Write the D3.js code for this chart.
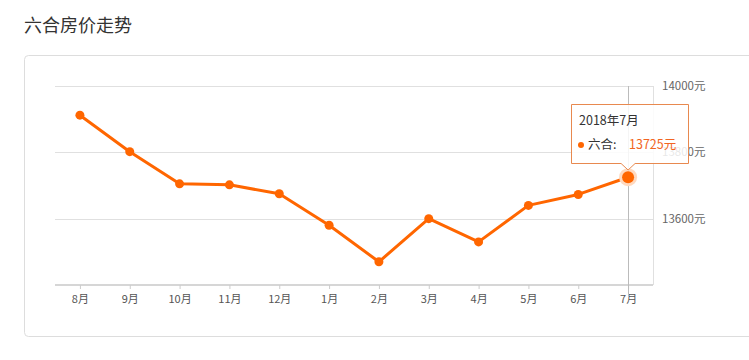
<!DOCTYPE html>
<html>
<head>
<meta charset="utf-8">
<script src="https://cdn.jsdelivr.net/npm/d3@7"></script>
<style>
  body { margin: 0; background: #fff; font-family: "Microsoft YaHei", "Noto Sans CJK SC", sans-serif; }
  svg text { font-family: "Noto Sans CJK SC", "DejaVu Sans", sans-serif; }
</style>
</head>
<body>
<div id="chart"></div>
<script>
var months = ['8月', '9月', '10月', '11月', '12月', '1月', '2月', '3月', '4月', '5月', '6月', '7月'];
var prices = [13912, 13802, 13705, 13702, 13675, 13580, 13470, 13600, 13530, 13640, 13673, 13725];
var yTicks = [13600, 13800, 14000];
var tipTitle = '2018年7月';
var tipName = '六合';

var W = 749, H = 360;
var plot = {left: 55, right: 653, top: 86, bottom: 285};
var orange = '#ff6600';

var svg = d3.select('#chart').append('svg')
    .attr('width', W)
    .attr('height', H);

// title
svg.append('text')
    .attr('x', 24).attr('y', 32)
    .attr('font-size', 18)
    .attr('fill', '#333')
    .text('六合房价走势');

// panel box
svg.append('rect')
    .attr('x', 24.5).attr('y', 55.5)
    .attr('width', 760).attr('height', 281)
    .attr('rx', 4)
    .attr('fill', 'none')
    .attr('stroke', '#ddd');

var x = d3.scalePoint()
    .domain(months)
    .range([plot.left, plot.right])
    .padding(0.5);

var y = d3.scaleLinear()
    .domain([13400, 14000])
    .range([plot.bottom, plot.top]);

// grid lines
svg.append('g').selectAll('line')
    .data(yTicks)
  .enter().append('line')
    .attr('x1', plot.left).attr('x2', plot.right)
    .attr('y1', function(d) { return Math.round(y(d)) + 0.5; })
    .attr('y2', function(d) { return Math.round(y(d)) + 0.5; })
    .attr('stroke', '#e0e0e0');

// right boundary
svg.append('line')
    .attr('x1', plot.right + 0.5).attr('x2', plot.right + 0.5)
    .attr('y1', plot.top).attr('y2', plot.bottom)
    .attr('stroke', '#e0e0e0');

// y labels on the right
svg.append('g').selectAll('text')
    .data(yTicks)
  .enter().append('text')
    .attr('x', plot.right + 9)
    .attr('y', function(d) { return y(d) + 4; })
    .attr('font-size', 11.5)
    .attr('fill', '#666')
    .text(function(d) { return d + '元'; });

// bottom axis
var xAxis = svg.append('g')
    .attr('transform', 'translate(0,' + plot.bottom + ')')
    .call(d3.axisBottom(x).tickSize(4).tickPadding(6));
xAxis.select('.domain')
    .attr('d', 'M' + plot.left + ',0H' + plot.right)
    .attr('stroke', '#d6d6d6')
    .attr('stroke-width', 2);
xAxis.selectAll('.tick line').attr('stroke', '#ccc');
xAxis.selectAll('.tick text')
    .attr('font-size', 11)
    .attr('fill', '#555');

// crosshair at last point
var last = months.length - 1;
svg.append('line')
    .attr('x1', Math.round(x(months[last])) + 0.5)
    .attr('x2', Math.round(x(months[last])) + 0.5)
    .attr('y1', plot.top).attr('y2', plot.bottom + 12)
    .attr('stroke', '#bbb');

// line
var line = d3.line()
    .x(function(d, i) { return x(months[i]); })
    .y(function(d) { return y(d); });

svg.append('path')
    .datum(prices)
    .attr('d', line)
    .attr('fill', 'none')
    .attr('stroke', orange)
    .attr('stroke-width', 3)
    .attr('stroke-linejoin', 'round');

svg.append('g').selectAll('circle')
    .data(prices.slice(0, last))
  .enter().append('circle')
    .attr('cx', function(d, i) { return x(months[i]); })
    .attr('cy', function(d) { return y(d); })
    .attr('r', 4.5)
    .attr('fill', orange);

// highlighted point
svg.append('circle')
    .attr('cx', x(months[last])).attr('cy', y(prices[last]))
    .attr('r', 9)
    .attr('fill', '#ffd9bf');
svg.append('circle')
    .attr('cx', x(months[last])).attr('cy', y(prices[last]))
    .attr('r', 6)
    .attr('fill', orange);

// tooltip (semi transparent, the 13800 label shows through like the original)
var tx = x(months[last]);
var tip = svg.append('g');
var bx = 571, by = 104, bw = 117, bh = 59;
tip.append('path')
    .attr('d', 'M' + (bx + 0.5) + ',' + (by + 0.5) +
               'H' + (bx + bw + 0.5) + 'V' + (by + bh + 0.5) +
               'H' + (tx + 7) + 'L' + tx + ',' + (by + bh + 7) +
               'L' + (tx - 7) + ',' + (by + bh + 0.5) +
               'H' + (bx + 0.5) + 'Z')
    .attr('fill', 'rgba(255,255,255,0.85)')
    .attr('stroke', '#e8894f')
    .attr('stroke-width', 1);
tip.append('text')
    .attr('x', bx + 8).attr('y', by + 21)
    .attr('font-size', 12.5)
    .attr('fill', '#333')
    .text(tipTitle);
tip.append('circle')
    .attr('cx', bx + 10).attr('cy', by + 41)
    .attr('r', 3)
    .attr('fill', orange);
tip.append('text')
    .attr('x', bx + 17).attr('y', by + 45)
    .attr('font-size', 12.5)
    .attr('fill', '#333')
    .text(tipName + ':');
tip.append('text')
    .attr('x', bx + 58).attr('y', by + 45)
    .attr('font-size', 12.5)
    .attr('fill', '#f26522')
    .text(prices[last] + '元');
</script>
</body>
</html>
